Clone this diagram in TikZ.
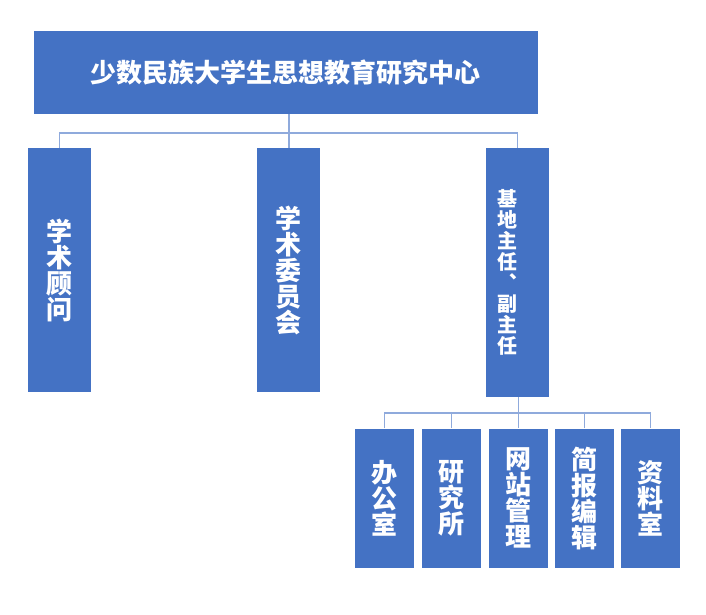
\documentclass[tikz,border=0pt]{standalone}
\usepackage{fontspec}
\usepackage{xcolor}
\usetikzlibrary{positioning}
\newfontfamily\cjk{Noto Sans CJK SC}
\definecolor{boxblue}{HTML}{4472C4}
\definecolor{linkblue}{HTML}{8FAADC}
\tikzset{
  unit/.style={fill=boxblue, text=white, inner sep=0pt, align=center,
    font=\cjk\bfseries\fontsize{26}{26}\selectfont},
  link/.style={draw=linkblue, line width=1.2pt}
}

\begin{document}
\begin{tikzpicture}[x=1pt, y=-1pt]
    \useasboundingbox (0,0) rectangle (706,615);

    \node[unit, minimum width=504pt, minimum height=83pt] (center) at (285.5,72.5) {少数民族大学生思想教育研究中心};

    \node[unit, minimum width=63pt, minimum height=244pt] (advisor) at (59.5,270) {学\\术\\顾\\问};
    \node[unit, minimum width=63pt, minimum height=244pt] (committee) at (288.5,270) {学\\术\\委\\员\\会};
    \node[unit, minimum width=63pt, minimum height=249pt, text width=40pt, align=left,
          font=\cjk\bfseries\fontsize{20}{21}\selectfont] (director) at (517.5,272.5) {基\\地\\主\\任\\︑\\副\\主\\任};

    \node[unit, minimum width=59pt, minimum height=139pt] (office) at (384.5,498) {办\\公\\室};
    \node[unit, minimum width=59pt, minimum height=139pt] (institute) at (451.5,498) {研\\究\\所};
    \node[unit, minimum width=59pt, minimum height=139pt] (web) at (518.5,498) {网\\站\\管\\理};
    \node[unit, minimum width=59pt, minimum height=139pt] (bulletin) at (584.5,498) {简\\报\\编\\辑};
    \node[unit, minimum width=59pt, minimum height=139pt] (archive) at (650.5,498) {资\\料\\室};

    % upper level
    \coordinate (upperbus) at (289,133);
    \draw[link] (center.south -| upperbus) -- (committee.north -| upperbus);
    \draw[link] (advisor.north) |- (upperbus) -| (director.north);

    % lower level
    \coordinate (lowerbus) at (518.5,413);
    \draw[link] (director.south -| web.north) -- (web.north);
    \draw[link] (office.north) |- (lowerbus) -| (archive.north);
    \draw[link] (institute.north) -- (institute.north |- lowerbus);
    \draw[link] (bulletin.north) -- (bulletin.north |- lowerbus);
\end{tikzpicture}
\end{document}
